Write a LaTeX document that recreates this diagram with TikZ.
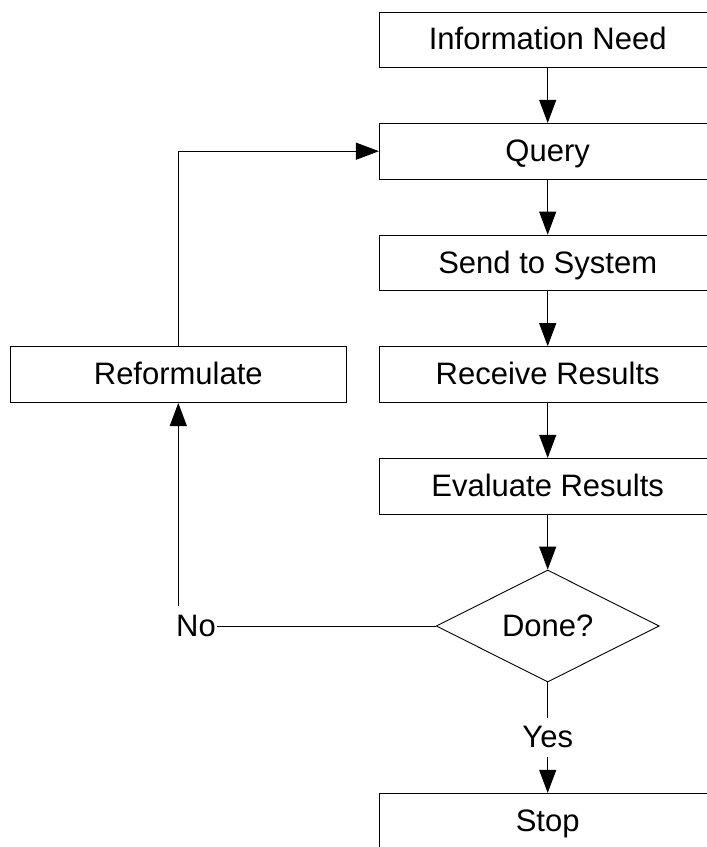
\documentclass[tikz,border=0pt]{standalone}
\usepackage{fontspec}
\setmainfont{Liberation Sans}
\usetikzlibrary{shapes.geometric,arrows.meta}

\begin{document}
\begin{tikzpicture}[x=1pt,y=-1pt,
  font=\fontsize{31}{37}\selectfont,
  box/.style={draw, line width=0.9pt, minimum width=336.7pt, minimum height=55.7pt,
    inner sep=0pt, text height=28pt, text depth=7.75pt},
  decision/.style={diamond, draw, line width=0.9pt, minimum width=223pt,
    minimum height=112pt, aspect=2, inner sep=0pt, text height=28pt, text depth=7.75pt},
  link/.style={line width=0.9pt},
  flow/.style={link, -{Triangle[length=23pt,width=17pt]}},
  lbl/.style={fill=white, inner ysep=0pt, inner xsep=1pt, minimum height=39pt,
    text height=28pt, text depth=7.75pt}]

  \useasboundingbox (0,0) rectangle (707,847);
  \clip (0,0) rectangle (707,847);

  % main column
  \node[box] (info)   at (547.7,39.8)  {Information Need};
  \node[box] (query)  at (547.7,151.2) {Query};
  \node[box] (send)   at (547.7,263)   {Send to System};
  \node[box] (recv)   at (547.7,374.5) {Receive Results};
  \node[box] (eval)   at (547.7,486.2) {Evaluate Results};
  \node[decision] (dec) at (547.7,626) {Done?};
  \node[box] (stop)   at (547.7,821.2) {Stop};

  % feedback column
  \node[box, minimum width=335.3pt] (reform) at (178.3,374.7) {Reformulate};

  \draw[flow] (info) -- (query);
  \draw[flow] (query) -- (send);
  \draw[flow] (send) -- (recv);
  \draw[flow] (recv) -- (eval);
  \draw[flow] (eval) -- (dec);

  % yes branch
  \draw[flow] (dec.south) -- (stop.north);
  \node[lbl] (yes) at (547.7,737.5) {Yes};

  % no branch, back to the query
  \node[lbl, anchor=west] (no) at (175,626) {No};
  \draw[link] (dec.west) -- (no.east);
  \draw[flow] (no.north -| reform.south) -- (reform.south);
  \draw[flow] (reform.north) |- (query.west);
\end{tikzpicture}
\end{document}
